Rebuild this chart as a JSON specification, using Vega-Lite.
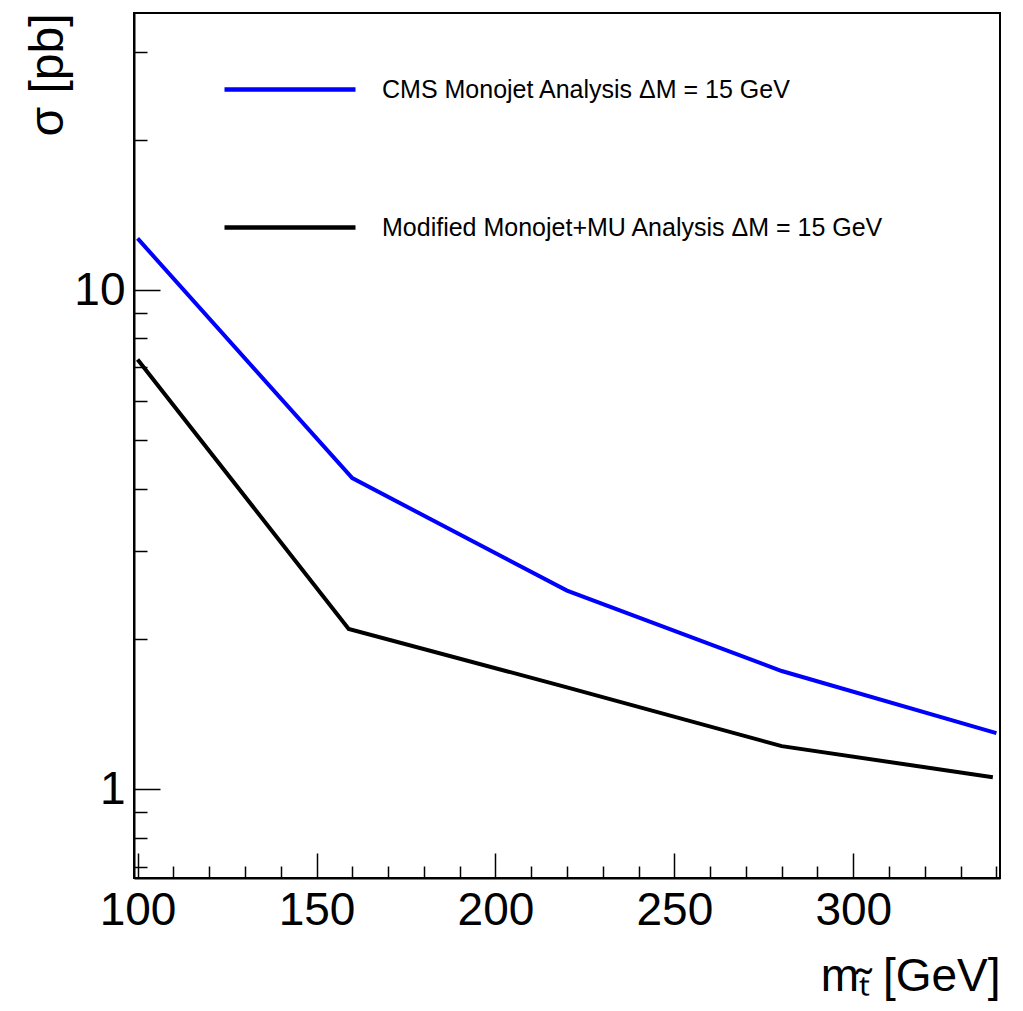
{
  "$schema": "https://vega.github.io/schema/vega-lite/v6.json",
  "autosize": {"type": "none"},
  "padding": {"left": 134, "top": 13, "right": 23, "bottom": 133},
  "width": 866,
  "height": 865,
  "background": "white",
  "config": {
    "font": "Liberation Sans",
    "view": {"stroke": "black", "strokeWidth": 2},
    "axis": {"grid": false, "domainColor": "black", "domainWidth": 2, "tickColor": "black", "tickWidth": 1.5, "labelColor": "black", "titleColor": "black", "labelFont": "Liberation Sans", "titleFont": "Liberation Sans", "titleFontWeight": "normal"}
  },
  "data": {
    "values": [
      {"series": "CMS Monojet Analysis ΔM = 15 GeV", "mass": 100, "sigma": 12.69},
      {"series": "CMS Monojet Analysis ΔM = 15 GeV", "mass": 160, "sigma": 4.2},
      {"series": "CMS Monojet Analysis ΔM = 15 GeV", "mass": 220, "sigma": 2.5},
      {"series": "CMS Monojet Analysis ΔM = 15 GeV", "mass": 280, "sigma": 1.725},
      {"series": "CMS Monojet Analysis ΔM = 15 GeV", "mass": 340, "sigma": 1.295},
      {"series": "Modified Monojet+MU Analysis ΔM = 15 GeV", "mass": 100, "sigma": 7.26},
      {"series": "Modified Monojet+MU Analysis ΔM = 15 GeV", "mass": 159, "sigma": 2.095},
      {"series": "Modified Monojet+MU Analysis ΔM = 15 GeV", "mass": 220, "sigma": 1.6},
      {"series": "Modified Monojet+MU Analysis ΔM = 15 GeV", "mass": 280, "sigma": 1.22},
      {"series": "Modified Monojet+MU Analysis ΔM = 15 GeV", "mass": 339, "sigma": 1.057}
    ]
  },
  "resolve": {"axis": {"x": "independent", "y": "independent"}},
  "layer": [
    {
      "mark": {"type": "line", "strokeWidth": 4, "clip": true},
      "encoding": {
        "x": {"field": "mass", "type": "quantitative",
          "scale": {"domain": [99, 341], "nice": false, "zero": false},
          "axis": {"orient": "bottom", "values": [100, 150, 200, 250, 300], "ticks": false, "labelFontSize": 46, "labelPadding": 10, "labelFlush": false,
            "title": "mₜ̃ [GeV]", "titleFontSize": 46, "titleX": 866, "titleY": 112, "titleAlign": "right", "titleBaseline": "alphabetic", "titleAnchor": "end"}},
        "y": {"field": "sigma", "type": "quantitative",
          "scale": {"type": "log", "domain": [0.664, 35.9], "nice": false},
          "axis": {"orient": "left", "values": [1, 10], "ticks": false, "labelFontSize": 46, "labelPadding": 9, "format": "d",
            "title": "σ [pb]", "titleFontSize": 48, "titleAngle": 270, "titleX": -72, "titleY": 0, "titleAlign": "right", "titleBaseline": "alphabetic", "titleAnchor": "end"}},
        "color": {"field": "series", "type": "nominal",
          "scale": {"domain": ["CMS Monojet Analysis ΔM = 15 GeV", "Modified Monojet+MU Analysis ΔM = 15 GeV"], "range": ["#0000ff", "#000000"]},
          "legend": {"title": null, "orient": "none", "legendX": 88, "legendY": 8.5, "padding": 0, "symbolType": "stroke", "symbolSize": 17161, "symbolStrokeWidth": 4.5, "labelFontSize": 25, "labelFont": "Liberation Sans", "labelColor": "black", "labelLimit": 0, "labelOffset": 24, "rowPadding": 57}}
      }
    },
    {
      "mark": {"type": "line", "strokeOpacity": 0},
      "encoding": {
        "x": {"field": "mass", "type": "quantitative",
          "scale": {"domain": [99, 341], "nice": false, "zero": false},
          "axis": {"orient": "bottom", "values": [100, 150, 200, 250, 300], "tickSize": -25, "labels": false, "domain": false, "title": null}},
        "y": {"field": "sigma", "type": "quantitative",
          "scale": {"type": "log", "domain": [0.664, 35.9], "nice": false},
          "axis": {"orient": "left", "values": [1, 10], "tickSize": -26, "labels": false, "domain": false, "title": null}},
        "detail": {"field": "series"}
      }
    },
    {
      "mark": {"type": "line", "strokeOpacity": 0},
      "encoding": {
        "x": {"field": "mass", "type": "quantitative",
          "scale": {"domain": [99, 341], "nice": false, "zero": false},
          "axis": {"orient": "bottom", "values": [110, 120, 130, 140, 160, 170, 180, 190, 210, 220, 230, 240, 260, 270, 280, 290, 310, 320, 330, 340], "tickSize": -12, "labels": false, "domain": false, "title": null}},
        "y": {"field": "sigma", "type": "quantitative",
          "scale": {"type": "log", "domain": [0.664, 35.9], "nice": false},
          "axis": {"orient": "left", "values": [0.7, 0.8, 0.9, 2, 3, 4, 5, 6, 7, 8, 9, 20, 30], "tickSize": -13, "labels": false, "domain": false, "title": null}},
        "detail": {"field": "series"}
      }
    }
  ]
}
